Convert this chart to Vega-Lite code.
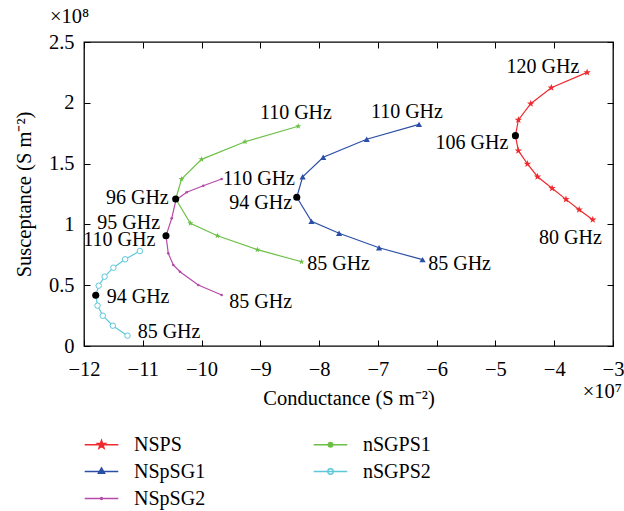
{
  "$schema": "https://vega.github.io/schema/vega-lite/v6.json",
  "width": 529,
  "height": 304,
  "autosize": "none",
  "padding": {"left": 84, "top": 42, "right": 11, "bottom": 165},
  "background": "white",
  "title": {"text": "×10⁸", "anchor": "start", "frame": "group", "dx": -34, "offset": 5, "fontSize": 20.5, "fontWeight": "normal", "font": "Liberation Serif", "color": "black"},
  "config": {
    "font": "Liberation Serif",
    "view": {"stroke": "black", "strokeWidth": 1.3},
    "axis": {"domain": false, "grid": false, "tickColor": "black", "tickSize": -6, "tickWidth": 1, "labelColor": "black", "labelFontSize": 20.5, "titleFontSize": 20.5, "titleFontWeight": "normal", "titleColor": "black", "labelFlush": false, "labelOverlap": false}
  },
  "datasets": {
    "curves": [
      {"s": "NSPS", "i": 0, "x": -3.344, "y": 1.039},
      {"s": "NSPS", "i": 1, "x": -3.576, "y": 1.121},
      {"s": "NSPS", "i": 2, "x": -3.80, "y": 1.206},
      {"s": "NSPS", "i": 3, "x": -4.036, "y": 1.297},
      {"s": "NSPS", "i": 4, "x": -4.284, "y": 1.392},
      {"s": "NSPS", "i": 5, "x": -4.455, "y": 1.497},
      {"s": "NSPS", "i": 6, "x": -4.61, "y": 1.606},
      {"s": "NSPS", "i": 7, "x": -4.66, "y": 1.73},
      {"s": "NSPS", "i": 8, "x": -4.61, "y": 1.859},
      {"s": "NSPS", "i": 9, "x": -4.40, "y": 1.993},
      {"s": "NSPS", "i": 10, "x": -4.05, "y": 2.124},
      {"s": "NSPS", "i": 11, "x": -3.44, "y": 2.25},
      {"s": "NSpSG1", "i": 0, "x": -6.24, "y": 0.710},
      {"s": "NSpSG1", "i": 1, "x": -6.98, "y": 0.808},
      {"s": "NSpSG1", "i": 2, "x": -7.66, "y": 0.927},
      {"s": "NSpSG1", "i": 3, "x": -8.13, "y": 1.025},
      {"s": "NSpSG1", "i": 4, "x": -8.38, "y": 1.223},
      {"s": "NSpSG1", "i": 5, "x": -8.28, "y": 1.392},
      {"s": "NSpSG1", "i": 6, "x": -7.93, "y": 1.552},
      {"s": "NSpSG1", "i": 7, "x": -7.19, "y": 1.70},
      {"s": "NSpSG1", "i": 8, "x": -6.30, "y": 1.823},
      {"s": "nSGPS1", "i": 0, "x": -8.30, "y": 0.693},
      {"s": "nSGPS1", "i": 1, "x": -9.05, "y": 0.792},
      {"s": "nSGPS1", "i": 2, "x": -9.73, "y": 0.907},
      {"s": "nSGPS1", "i": 3, "x": -10.19, "y": 1.009},
      {"s": "nSGPS1", "i": 4, "x": -10.44, "y": 1.209},
      {"s": "nSGPS1", "i": 5, "x": -10.34, "y": 1.373},
      {"s": "nSGPS1", "i": 6, "x": -10.0, "y": 1.535},
      {"s": "nSGPS1", "i": 7, "x": -9.26, "y": 1.680},
      {"s": "nSGPS1", "i": 8, "x": -8.355, "y": 1.807},
      {"s": "NSpSG2", "i": 0, "x": -9.658, "y": 0.419},
      {"s": "NSpSG2", "i": 1, "x": -10.056, "y": 0.502},
      {"s": "NSpSG2", "i": 2, "x": -10.367, "y": 0.611},
      {"s": "NSpSG2", "i": 3, "x": -10.481, "y": 0.666},
      {"s": "NSpSG2", "i": 4, "x": -10.566, "y": 0.762},
      {"s": "NSpSG2", "i": 5, "x": -10.605, "y": 0.907},
      {"s": "NSpSG2", "i": 6, "x": -10.508, "y": 1.050},
      {"s": "NSpSG2", "i": 7, "x": -10.435, "y": 1.201},
      {"s": "NSpSG2", "i": 8, "x": -10.253, "y": 1.264},
      {"s": "NSpSG2", "i": 9, "x": -9.971, "y": 1.318},
      {"s": "NSpSG2", "i": 10, "x": -9.658, "y": 1.373},
      {"s": "nSGPS2", "i": 0, "x": -11.26, "y": 0.085},
      {"s": "nSGPS2", "i": 1, "x": -11.51, "y": 0.167},
      {"s": "nSGPS2", "i": 2, "x": -11.68, "y": 0.249},
      {"s": "nSGPS2", "i": 3, "x": -11.77, "y": 0.332},
      {"s": "nSGPS2", "i": 4, "x": -11.80, "y": 0.417},
      {"s": "nSGPS2", "i": 5, "x": -11.75, "y": 0.496},
      {"s": "nSGPS2", "i": 6, "x": -11.65, "y": 0.570},
      {"s": "nSGPS2", "i": 7, "x": -11.50, "y": 0.644},
      {"s": "nSGPS2", "i": 8, "x": -11.30, "y": 0.713},
      {"s": "nSGPS2", "i": 9, "x": -11.05, "y": 0.781}
    ],
    "dots": [
      {"s": "NSPS", "x": -4.66, "y": 1.73},
      {"s": "NSpSG1", "x": -8.38, "y": 1.223},
      {"s": "nSGPS1", "x": -10.44, "y": 1.209},
      {"s": "NSpSG2", "x": -10.605, "y": 0.907},
      {"s": "nSGPS2", "x": -11.80, "y": 0.417}
    ],
    "labels": [
      {"t": "120 GHz", "x": -4.811, "y": 2.297},
      {"t": "106 GHz", "x": -6.019, "y": 1.672},
      {"t": "80 GHz", "x": -4.257, "y": 0.886},
      {"t": "110 GHz", "x": -7.119, "y": 1.922},
      {"t": "94 GHz", "x": -9.529, "y": 1.178},
      {"t": "85 GHz", "x": -6.144, "y": 0.674},
      {"t": "110 GHz", "x": -9.007, "y": 1.920},
      {"t": "96 GHz", "x": -11.626, "y": 1.215},
      {"t": "85 GHz", "x": -8.202, "y": 0.674},
      {"t": "110 GHz", "x": -9.636, "y": 1.371},
      {"t": "95 GHz", "x": -11.774, "y": 1.009},
      {"t": "85 GHz", "x": -9.529, "y": 0.364},
      {"t": "110 GHz", "x": -12.012, "y": 0.872},
      {"t": "94 GHz", "x": -11.614, "y": 0.405},
      {"t": "85 GHz", "x": -11.087, "y": 0.118}
    ],
    "scale_note": [
      {"t": "×10⁷", "x": -3.514, "y": -0.375}
    ]
  },
  "layer": [
    {
      "data": {"name": "curves"},
      "mark": {"type": "line", "strokeWidth": 1.2},
      "encoding": {
        "x": {"field": "x", "type": "quantitative", "scale": {"domain": [-12, -3], "nice": false, "zero": false},
              "axis": {"orient": "bottom", "values": [-12, -11, -10, -9, -8, -7, -6, -5, -4, -3], "format": "d", "labelPadding": 19, "title": "Conductance (S m⁻²)", "titlePadding": 9}},
        "y": {"field": "y", "type": "quantitative", "scale": {"domain": [0, 2.5], "nice": false, "zero": false},
              "axis": {"orient": "left", "values": [0, 0.5, 1, 1.5, 2, 2.5], "format": "~g", "labelPadding": 16, "title": "Susceptance (S m⁻²)", "titlePadding": 14}},
        "stroke": {"field": "s", "type": "nominal",
                   "scale": {"domain": ["NSPS", "NSpSG1", "NSpSG2", "nSGPS1", "nSGPS2"], "range": ["#ee2a2e", "#2b4ea6", "#b64aa8", "#6cc045", "#5cc8d8"]},
                   "legend": {
                     "orient": "none", "legendX": 6, "legendY": 391, "columns": 2, "columnPadding": 105, "rowPadding": 5,
                     "title": null, "labelFontSize": 20, "labelColor": "black", "labelOffset": 21, "symbolSize": 441, "labelLimit": 0,
                     "symbolStrokeWidth": 1.3,
                     "encode": {"symbols": {"update": {
                       "shape": {"signal": "datum.value==='NSPS'?'M-1.6,0H1.6M0,-0.43L0.101,-0.139L0.409,-0.133L0.163,0.053L0.253,0.348L0,0.172L-0.253,0.348L-0.163,0.053L-0.409,-0.133L-0.101,-0.139Z':datum.value==='NSpSG1'?'M-1.6,0H1.6M0,-0.36L0.31,0.18L-0.31,0.18Z':datum.value==='nSGPS1'?'M-1.6,0H1.6M0.22,0A0.22,0.22 0 1,1 -0.22,0A0.22,0.22 0 1,1 0.22,0Z':datum.value==='nSGPS2'?'M-1.6,0H1.6M0.26,0A0.26,0.26 0 1,1 -0.26,0A0.26,0.26 0 1,1 0.26,0Z':'M-1.6,0H1.6M0.1,0A0.1,0.1 0 1,1 -0.1,0A0.1,0.1 0 1,1 0.1,0Z'"},
                       "size": {"value": 441},
                       "fill": {"signal": "datum.value==='NSPS'?'#ee2a2e':datum.value==='nSGPS1'?'#6cc045':datum.value==='NSpSG1'?'#2b4ea6':datum.value==='nSGPS2'?'white':'#b64aa8'"},
                       "strokeWidth": {"value": 1.3},
                       "opacity": {"value": 1},
                       "fillOpacity": {"value": 1},
                       "strokeOpacity": {"value": 1}
                     }}}
                   }},
        "detail": {"field": "s"},
        "order": {"field": "i", "type": "quantitative"}
      }
    },
    {
      "data": {"name": "curves"},
      "transform": [{"filter": "datum.s === 'NSPS'"}],
      "mark": {"type": "point", "filled": true, "color": "#ee2a2e", "strokeWidth": 0.6, "size": 60, "opacity": 1,
               "shape": "M0,-1L0.235,-0.324L0.951,-0.309L0.38,0.124L0.588,0.809L0,0.4L-0.588,0.809L-0.38,0.124L-0.951,-0.309L-0.235,-0.324Z"},
      "encoding": {
        "x": {"field": "x", "type": "quantitative", "axis": null},
        "y": {"field": "y", "type": "quantitative", "axis": null}
      }
    },
    {
      "data": {"name": "curves"},
      "transform": [{"filter": "datum.s === 'NSpSG1'"}],
      "mark": {"type": "point", "filled": true, "color": "#2b4ea6", "size": 38, "opacity": 1, "shape": "triangle-up"},
      "encoding": {
        "x": {"field": "x", "type": "quantitative", "axis": null},
        "y": {"field": "y", "type": "quantitative", "axis": null}
      }
    },
    {
      "data": {"name": "curves"},
      "transform": [{"filter": "datum.s === 'nSGPS1'"}],
      "mark": {"type": "point", "filled": true, "color": "#6cc045", "strokeWidth": 0.6, "size": 40, "opacity": 1,
               "shape": "M0,-1L0.235,-0.324L0.951,-0.309L0.38,0.124L0.588,0.809L0,0.4L-0.588,0.809L-0.38,0.124L-0.951,-0.309L-0.235,-0.324Z"},
      "encoding": {
        "x": {"field": "x", "type": "quantitative", "axis": null},
        "y": {"field": "y", "type": "quantitative", "axis": null}
      }
    },
    {
      "data": {"name": "curves"},
      "transform": [{"filter": "datum.s === 'NSpSG2'"}],
      "mark": {"type": "point", "filled": true, "color": "#b64aa8", "size": 7, "opacity": 1, "shape": "circle"},
      "encoding": {
        "x": {"field": "x", "type": "quantitative", "axis": null},
        "y": {"field": "y", "type": "quantitative", "axis": null}
      }
    },
    {
      "data": {"name": "curves"},
      "transform": [{"filter": "datum.s === 'nSGPS2'"}],
      "mark": {"type": "point", "filled": false, "fill": "white", "stroke": "#5cc8d8", "strokeWidth": 1, "size": 30, "opacity": 1, "shape": "circle"},
      "encoding": {
        "x": {"field": "x", "type": "quantitative", "axis": null},
        "y": {"field": "y", "type": "quantitative", "axis": null}
      }
    },
    {
      "data": {"name": "dots"},
      "mark": {"type": "point", "shape": "circle", "filled": true, "color": "black", "size": 50, "opacity": 1},
      "encoding": {
        "x": {"field": "x", "type": "quantitative", "axis": {"orient": "top", "values": [-12, -11, -10, -9, -8, -7, -6, -5, -4, -3], "labels": false, "title": null}},
        "y": {"field": "y", "type": "quantitative", "axis": {"orient": "right", "values": [0, 0.5, 1, 1.5, 2, 2.5], "labels": false, "title": null}}
      }
    },
    {
      "data": {"name": "labels"},
      "mark": {"type": "text", "align": "left", "baseline": "middle", "fontSize": 20, "color": "black"},
      "encoding": {
        "x": {"field": "x", "type": "quantitative", "axis": null},
        "y": {"field": "y", "type": "quantitative", "axis": null},
        "text": {"field": "t"}
      }
    },
    {
      "data": {"name": "scale_note"},
      "mark": {"type": "text", "align": "left", "baseline": "middle", "fontSize": 20.5, "color": "black", "clip": false},
      "encoding": {
        "x": {"field": "x", "type": "quantitative", "axis": null},
        "y": {"field": "y", "type": "quantitative", "axis": null},
        "text": {"field": "t"}
      }
    }
  ],
  "resolve": {"axis": {"x": "independent", "y": "independent"}}
}
